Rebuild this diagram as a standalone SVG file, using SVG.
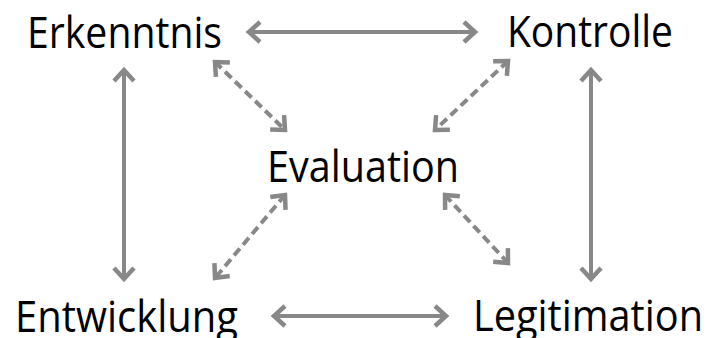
<svg xmlns="http://www.w3.org/2000/svg" width="708" height="338" viewBox="0 0 708 338">
  <style>
    .lbl { font-family: "Open Sans", "Liberation Sans", sans-serif; font-size: 44px; fill: #000; }
    .c { stroke: #888888; stroke-width: 4; fill: none; marker-start: url(#ah); marker-end: url(#ah); }
    .d { stroke-dasharray: 9 5; }
  </style>
  <defs>
    <marker id="ah" markerUnits="userSpaceOnUse" markerWidth="30" markerHeight="30" viewBox="-15 -15 30 30" refX="0" refY="0" orient="auto-start-reverse" overflow="visible">
      <path d="M-11,-10 L0,0 L-11,10" fill="none" stroke="#888888" stroke-width="4.5" stroke-linejoin="miter"/>
    </marker>
  </defs>
  <rect width="708" height="338" fill="#fff"/>
  <g id="connectors">
    <line class="c" x1="249" y1="32" x2="475" y2="32"/>
    <line class="c" x1="274" y1="316" x2="446" y2="316"/>
    <line class="c" x1="124" y1="70" x2="124" y2="279"/>
    <line class="c" x1="591" y1="70" x2="591" y2="279"/>
    <line class="c d" x1="215" y1="62" x2="285" y2="130"/>
    <line class="c d" x1="508" y1="61" x2="435" y2="130"/>
    <line class="c d" x1="285" y1="195" x2="215" y2="278"/>
    <line class="c d" x1="445" y1="195" x2="508" y2="263"/>
  </g>
  <g id="erkenntnis"><text class="lbl" x="27" y="48" textLength="195" lengthAdjust="spacingAndGlyphs">Erkenntnis</text></g>
  <g id="kontrolle"><text class="lbl" x="507" y="47" textLength="166" lengthAdjust="spacingAndGlyphs">Kontrolle</text></g>
  <g id="evaluation"><text class="lbl" x="267" y="182" textLength="192" lengthAdjust="spacingAndGlyphs">Evaluation</text></g>
  <g id="entwicklung"><text class="lbl" x="15" y="332" textLength="223" lengthAdjust="spacingAndGlyphs">Entwicklung</text></g>
  <g id="legitimation"><text class="lbl" x="473" y="331" textLength="230" lengthAdjust="spacingAndGlyphs">Legitimation</text></g>
</svg>
